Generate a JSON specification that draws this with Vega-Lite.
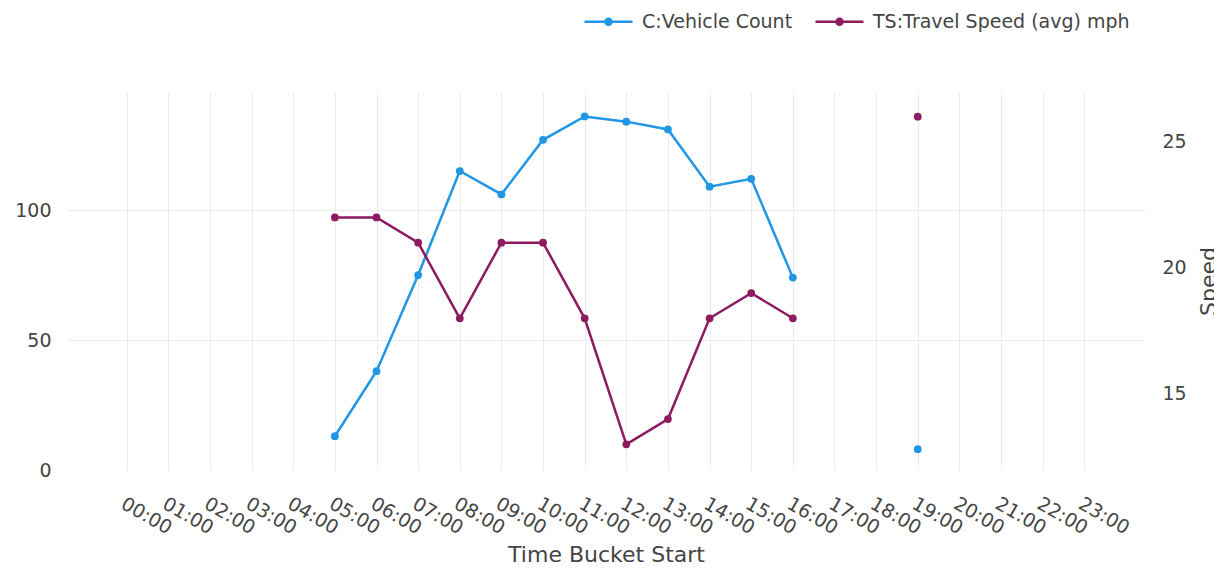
{
  "$schema": "https://vega.github.io/schema/vega-lite/v6.json",
  "width": 1078,
  "height": 378,
  "autosize": {"type": "none"},
  "padding": {"left": 67, "top": 92, "right": 69, "bottom": 109},
  "background": "white",
  "config": {
    "view": {"stroke": null},
    "font": "DejaVu Sans",
    "axis": {
      "labelFont": "DejaVu Sans",
      "titleFont": "DejaVu Sans",
      "labelColor": "#444444",
      "titleColor": "#444444",
      "labelFontSize": 19,
      "titleFontSize": 22,
      "titleFontWeight": "normal",
      "gridColor": "#ebebeb",
      "gridWidth": 1,
      "domain": false,
      "ticks": false,
      "tickSize": 0
    }
  },
  "data": {
    "values": [
      {"hour": 5, "count": 13, "speed": 22},
      {"hour": 6, "count": 38, "speed": 22},
      {"hour": 7, "count": 75, "speed": 21},
      {"hour": 8, "count": 115, "speed": 18},
      {"hour": 9, "count": 106, "speed": 21},
      {"hour": 10, "count": 127, "speed": 21},
      {"hour": 11, "count": 136, "speed": 18},
      {"hour": 12, "count": 134, "speed": 13},
      {"hour": 13, "count": 131, "speed": 14},
      {"hour": 14, "count": 109, "speed": 18},
      {"hour": 15, "count": 112, "speed": 19},
      {"hour": 16, "count": 74, "speed": 18},
      {"hour": 17, "count": null, "speed": null},
      {"hour": 18, "count": null, "speed": null},
      {"hour": 19, "count": 8, "speed": 26}
    ]
  },
  "encoding": {
    "x": {
      "field": "hour",
      "type": "quantitative",
      "scale": {"domain": [-1.434, 24.458], "nice": false, "zero": false},
      "axis": {
        "title": "Time Bucket Start",
        "grid": true,
        "values": [0,1,2,3,4,5,6,7,8,9,10,11,12,13,14,15,16,17,18,19,20,21,22,23],
        "labelExpr": "pad(toString(datum.value), 2, '0', 'left') + ':00'",
        "labelAngle": 30,
        "labelAlign": "left",
        "labelBaseline": "top",
        "labelPadding": 24,
        "labelOverlap": false,
        "labelFlush": false,
        "titleX": 539,
        "titleY": 84,
        "titleBaseline": "middle"
      }
    }
  },
  "layer": [
    {
      "mark": {"type": "line", "strokeWidth": 2.5, "invalid": "break-paths-show-domains", "point": {"filled": true, "size": 60, "opacity": 1}},
      "encoding": {
        "y": {
          "field": "count",
          "type": "quantitative",
          "scale": {"domain": [0, 145.4], "nice": false, "zero": false},
          "axis": {
            "orient": "left",
            "title": null,
            "values": [0, 50, 100],
            "labelPadding": 16,
            "gridColor": {"condition": {"test": "datum.value === 0", "value": "transparent"}, "value": "#ebebeb"}
          }
        },
        "color": {
          "datum": "C:Vehicle Count",
          "type": "nominal",
          "scale": {"domain": ["C:Vehicle Count", "TS:Travel Speed (avg) mph"], "range": ["#1f96e6", "#8c1b5f"]},
          "legend": {
            "orient": "none",
            "legendX": 516,
            "legendY": -96,
            "direction": "horizontal",
            "title": null,
            "symbolType": "M-1,0L1,0M-0.125,0A0.125,0.125,0,1,1,0.125,0A0.125,0.125,0,1,1,-0.125,0Z",
            "symbolSize": 2304,
            "symbolStrokeWidth": 2.5,
            "labelFont": "DejaVu Sans",
            "labelFontSize": 19,
            "labelColor": "#444444",
            "labelOffset": 8,
            "columnPadding": 17,
            "padding": 0,
            "labelLimit": 400,
            "encode": {
              "symbols": {
                "update": {
                  "fill": {"scale": "color", "field": "value"},
                  "stroke": {"scale": "color", "field": "value"},
                  "opacity": {"value": 1}
                }
              }
            }
          }
        }
      }
    },
    {
      "mark": {"type": "line", "strokeWidth": 2.5, "invalid": "break-paths-show-domains", "point": {"filled": true, "size": 60, "opacity": 1}},
      "encoding": {
        "y": {
          "field": "speed",
          "type": "quantitative",
          "scale": {"domain": [11.98, 26.98], "nice": false, "zero": false},
          "axis": {
            "orient": "right",
            "title": "Speed",
            "values": [15, 20, 25],
            "labelPadding": 17,
            "titleAngle": 270,
            "titleBaseline": "middle",
            "titleX": 63,
            "titleY": 189
          }
        },
        "color": {"datum": "TS:Travel Speed (avg) mph", "type": "nominal"}
      }
    }
  ],
  "resolve": {"scale": {"y": "independent"}, "axis": {"y": "independent"}}
}
